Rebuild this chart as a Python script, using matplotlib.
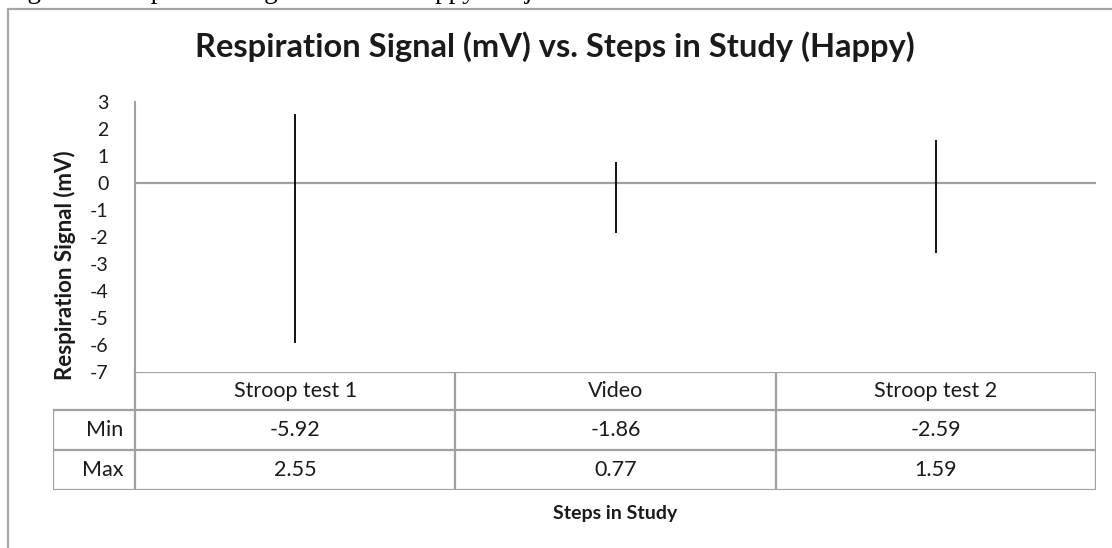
import matplotlib
matplotlib.use("Agg")
import matplotlib.pyplot as plt
from matplotlib.patches import Rectangle

# ---- data ----
categories = ["Stroop test 1", "Video", "Stroop test 2"]
min_values = [-5.92, -1.86, -2.59]
max_values = [2.55, 0.77, 1.59]
row_labels = ["Min", "Max"]
y_ticks = [3, 2, 1, 0, -1, -2, -3, -4, -5, -6, -7]

title = "Respiration Signal (mV) vs. Steps in Study (Happy)"
y_label = "Respiration Signal (mV)"
x_label = "Steps in Study"
caption = "Figure 6: Respiration Signal of each Happy Subject"

W, H = 1112, 548
DPI = 100
FONT = "Lato"
TXT = "#1a1a1a"
GRID = "#a0a0a0"

fig = plt.figure(figsize=(W / DPI, H / DPI), dpi=DPI)
fig.patch.set_facecolor("white")


def fx(px):
    return px / W


def fy(py):
    return 1 - py / H


# outer chart border (continues past right / bottom edges)
fig.patches.append(Rectangle((fx(8), fy(600)), fx(1200), fy(9) - fy(600),
                             transform=fig.transFigure, fill=False,
                             edgecolor="#a6a6a6", linewidth=1.6))

# cut-off caption at the very top
fig.text(fx(5), fy(-2.5), caption, family="Liberation Serif", fontsize=19.5,
         ha="left", va="baseline", color="black")

# ---- main plot axes ----
left_px, right_px = 135, 1096
top_px, bot_px = 102, 372
ax = fig.add_axes([fx(left_px), fy(bot_px), fx(right_px - left_px),
                   (bot_px - top_px) / H])
ax.set_xlim(-0.5, len(categories) - 0.5)
ax.set_ylim(-7, 3)
for s in ["top", "right", "bottom"]:
    ax.spines[s].set_visible(False)
ax.spines["left"].set_color(GRID)
ax.spines["left"].set_linewidth(1.5)
ax.set_xticks([])
ax.set_yticks(y_ticks)
ax.set_yticklabels([str(v) for v in y_ticks], family=FONT, fontsize=14,
                   color=TXT)
ax.tick_params(axis="y", length=0, pad=19)
ax.axhline(0, color=GRID, linewidth=1.6, zorder=1)
xs = list(range(len(categories)))
ax.vlines(xs, min_values, max_values, color="black", linewidth=1.3, zorder=3)
ax.patch.set_alpha(0)

# ---- data table below ----
unit = (right_px - left_px) / len(categories)
lab_px = 53
tab_bot = 490
tax = fig.add_axes([fx(lab_px), fy(tab_bot), fx(right_px - lab_px),
                    (tab_bot - bot_px) / H])
x_left = -0.5 - (left_px - lab_px) / unit
tax.set_xlim(x_left, len(categories) - 0.5)
tax.set_ylim(0, 118)
tax.axis("off")
lw = 1.6
tax.hlines([0, 40, 80], x_left, len(categories) - 0.5, color=GRID, lw=lw)
tax.hlines([118], -0.5, len(categories) - 0.5, color=GRID, lw=lw)
tax.vlines([x_left], 0, 80, color=GRID, lw=lw)
tax.vlines([i - 0.5 for i in range(len(categories) + 1)], 0, 118,
           color=GRID, lw=lw)
TFS = 15.5
for i, c in enumerate(categories):
    tax.text(i, 99, c, family=FONT, fontsize=TFS, ha="center", va="center",
             color=TXT)
rows = [min_values, max_values]
row_centers = [60, 20]
for lab, vals, yc in zip(row_labels, rows, row_centers):
    tax.text(-0.5 - 12 / unit, yc, lab, family=FONT, fontsize=TFS,
             ha="right", va="center", color=TXT)
    for i, v in enumerate(vals):
        tax.text(i, yc, f"{v:.2f}", family=FONT, fontsize=TFS,
                 ha="center", va="center", color=TXT)

# ---- titles ----
fig.text(fx(555), fy(47), title, family=FONT, fontweight="bold",
         fontsize=23.5, ha="center", va="center", color=TXT)
fig.text(fx(65), fy(265), y_label, family=FONT, fontweight="bold",
         fontsize=16, rotation=90, ha="center", va="center", color=TXT)
fig.text(fx(615), fy(513), x_label, family=FONT, fontweight="bold",
         fontsize=14, ha="center", va="center", color=TXT)

fig.savefig("out.png", dpi=DPI, facecolor="white")
